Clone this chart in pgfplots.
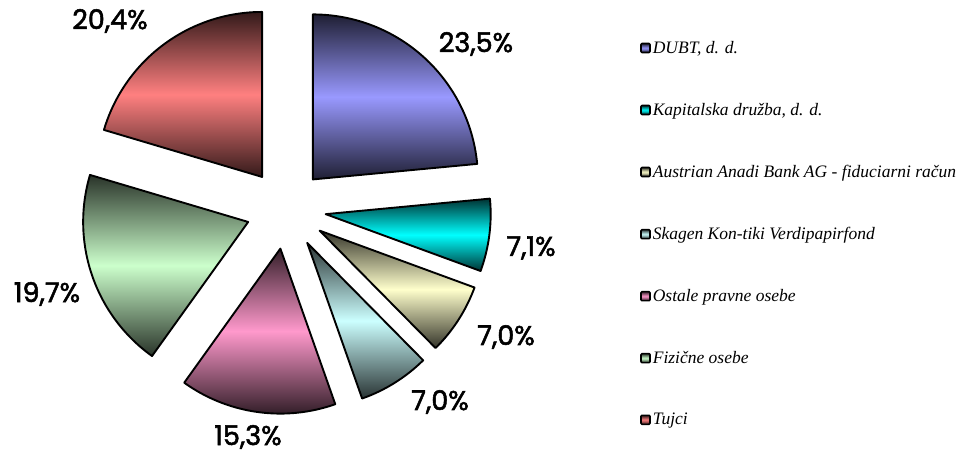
\documentclass[border=0pt]{standalone}
\usepackage{pgfplots}
\pgfplotsset{compat=1.18}
\usepackage{fontspec}
\setmainfont{Liberation Serif}
\newfontfamily\lab{Poppins}[FakeBold=2]

\definecolor{cA}{HTML}{9999FF}
\definecolor{cB}{HTML}{00FFFF}
\definecolor{cC}{HTML}{FFFFCC}
\definecolor{cD}{HTML}{CCFFFF}
\definecolor{cE}{HTML}{FF99CC}
\definecolor{cF}{HTML}{CCFFCC}
\definecolor{cG}{HTML}{FF8080}

% #1 cumulative start (%), #2 value (%), #3 colour, #4 legend text
\newcommand\slice[4]{%
  \pgfmathsetmacro\aA{90-3.6*#1}%
  \pgfmathsetmacro\aB{90-3.6*(#1+#2)}%
  \pgfmathsetmacro\am{(\aA+\aB)/2}%
  \pgfmathsetmacro\px{286+40*cos(\am)}%
  \pgfmathsetmacro\py{244+40*sin(\am)}%
  \edef\doit{\noexpand\addplot[draw=black, line width=1.9pt, line join=round,
     top color=#3!20!black, bottom color=#3!20!black, middle color=#3,
     domain=\aB:\aA, samples=80]
     ({\px+165*cos(x)},{\py+165*sin(x)}) -- (axis cs:\px,\py) -- cycle;}%
  \doit
  \addlegendentry{#4}%
}

\begin{document}
\begin{tikzpicture}
\path[use as bounding box] (0,0) rectangle (960pt,453pt);
\begin{axis}[
  at={(0,0)}, anchor=south west,
  x=1pt, y=1pt, xmin=0, xmax=960, ymin=0, ymax=453,
  hide axis, clip=false,
  legend cell align=left,
  legend image code/.code={\path[#1, draw=black, line width=1.6pt, rounded corners=1pt] (0pt,-4.5pt) rectangle (9pt,4.5pt);},
  legend style={at={(axis cs:637,416)}, anchor=north west, draw=none, fill=none,
    font=\itshape\fontsize{17.5}{20}\selectfont, row sep=44.3pt,
    nodes={inner sep=2pt}},
]
\slice{0}{23.5}{cA}{DUBT, d. d.}
\slice{23.5}{7.1}{cB}{Kapitalska družba, d. d.}
\slice{30.6}{7.0}{cC}{Austrian Anadi Bank AG - fiduciarni račun}
\slice{37.6}{7.0}{cD}{Skagen Kon-tiki Verdipapirfond}
\slice{44.6}{15.3}{cE}{Ostale pravne osebe}
\slice{59.9}{19.7}{cF}{Fizične osebe}
\slice{79.6}{20.4}{cG}{Tujci}

\begin{scope}[every node/.style={font=\lab\fontsize{27}{32}\selectfont}]
\node at (axis cs:476,409) {23,5\%};
\node at (axis cs:531,205) {7,1\%};
\node at (axis cs:506,116) {7,0\%};
\node at (axis cs:440,51) {7,0\%};
\node at (axis cs:248,16) {15,3\%};
\node at (axis cs:47,159) {19,7\%};
\node at (axis cs:110,432) {20,4\%};
\end{scope}
\end{axis}
\end{tikzpicture}
\end{document}
